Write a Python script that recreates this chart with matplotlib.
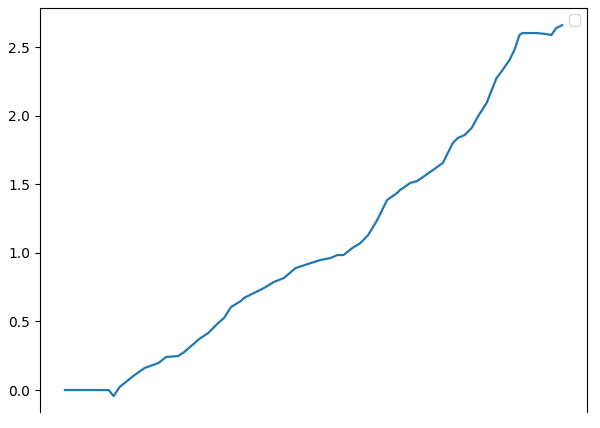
import matplotlib
matplotlib.use("Agg")
import matplotlib.pyplot as plt

# cumulative values
steps = [0, 44, 49, 55, 70, 80, 94, 102, 114, 120, 127, 135, 144, 154, 160,
         167, 177, 180, 200, 210, 220, 232, 244, 257, 267, 274, 280, 289, 297,
         305, 314, 324, 334, 337, 340, 347, 354, 360, 367, 370, 380, 390, 395,
         402, 409, 415, 424, 434, 440, 447, 452, 457, 460, 474, 484, 489, 494,
         500]
values = [0.000, 0.000, -0.044, 0.022, 0.109, 0.160, 0.197, 0.241, 0.248,
          0.277, 0.321, 0.372, 0.415, 0.488, 0.525, 0.605, 0.649, 0.671,
          0.743, 0.787, 0.816, 0.889, 0.918, 0.948, 0.962, 0.984, 0.984,
          1.035, 1.071, 1.130, 1.239, 1.385, 1.436, 1.458, 1.472, 1.509,
          1.523, 1.552, 1.589, 1.603, 1.655, 1.800, 1.837, 1.859, 1.910,
          1.990, 2.092, 2.274, 2.332, 2.405, 2.478, 2.587, 2.602, 2.602,
          2.595, 2.587, 2.638, 2.660]

fig = plt.figure(figsize=(6, 4.28), dpi=100)
ax = fig.add_axes([0.0667, 0.0374, 0.9117, 0.945])
ax.plot(steps, values, color="#1f77b4", lw=1.6)
ax.set_ylim(-0.16, 2.788)
ax.spines["bottom"].set_visible(False)
ax.set_xticks([])
ax.legend(handles=[], loc="upper right")

fig.savefig("out.png", dpi=100)
